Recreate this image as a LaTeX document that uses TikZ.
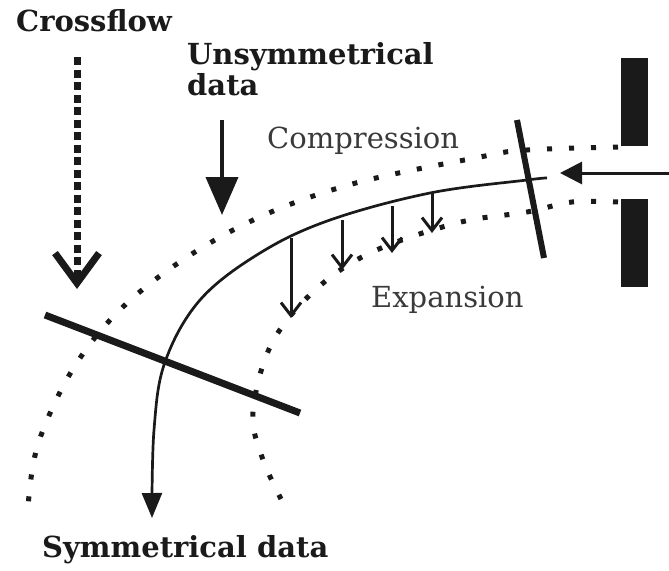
\documentclass[tikz,border=0pt]{standalone}
\usepackage{fontspec}
\setmainfont{DejaVu Serif}
\usepackage{tikz}
\usetikzlibrary{arrows.meta}
\definecolor{ink}{HTML}{1A1A1A}
\definecolor{softink}{HTML}{3A3A3A}
\tikzset{
  boldlabel/.style={
    font=\fontsize{29}{31}\selectfont\bfseries,
    text=ink,
    inner sep=0pt,
    align=left
  },
  plainlabel/.style={
    font=\fontsize{29}{31}\selectfont,
    text=softink,
    inner sep=0pt
  },
  dotline/.style={draw=ink,line width=5pt,dash pattern=on 5pt off 17pt},
  streamline/.style={draw=ink,line width=2.7pt,-{Triangle[length=25pt,width=20pt]}},
  pusharrow/.style={draw=ink,line width=3pt,-{Straight Barb[length=13pt,width=20pt]}},
  shockbar/.style={draw=ink,line width=7pt},
  wallblock/.style={fill=ink,draw=none}
}

\begin{document}
\begin{tikzpicture}[x=1pt,y=-1pt]
  \useasboundingbox (0,0) rectangle (669,570);
  % labels
  \node[boldlabel, anchor=base west] (crossflow) at (16,31) {Crossflow};
  \node[boldlabel, anchor=north west] (unsym) at (187,42) {Unsymmetrical\\data};
  \node[plainlabel, anchor=base west] (compr) at (267,148) {Compression};
  \node[plainlabel, anchor=base west] (expan) at (371,307) {Expansion};
  \node[boldlabel, anchor=base west] (sym) at (42,557) {Symmetrical data};
  % nozzle walls
  \fill[wallblock] (621,58) rectangle (648,146);
  \fill[wallblock] (621,199) rectangle (648,287);
  % jet boundaries
  \draw[dotline] plot[smooth,tension=0.6] coordinates {(618,147) (527,150) (480,157) (345,186) (237,228) (142,290) (80,358) (39,441) (28,508)};
  \draw[dotline] plot[smooth,tension=0.6] coordinates {(618,202) (572,202) (527,212) (457,223) (370,253) (313,292) (271,345) (253,412) (262,457) (281,499)};
  % inflow
  \coordinate (inlet) at (669,173);
  \coordinate (inlettip) at (560,173);
  \draw[draw=ink,line width=3pt,-{Triangle[length=22pt,width=22pt]}] (inlet) -- (inlettip);
  % centre streamline
  \draw[streamline] plot[smooth,tension=0.6] coordinates {(547,178) (527,180) (430,193) (330,220) (260,253) (200,300) (165,362) (154,430) (152,518)};
  % bars
  \coordinate (barAa) at (45,315);
  \coordinate (barAb) at (300,413);
  \coordinate (barBa) at (517,120);
  \coordinate (barBb) at (544,258);
  \draw[shockbar] (barAa) -- (barAb);
  \draw[shockbar,line width=6pt] (barBa) -- (barBb);
  % bending arrows
  \foreach \x/\ya/\yb in {291/238/318, 342/220/270, 392/206/253, 432/193/233}{
    \coordinate (pa\x) at (\x,\ya);
    \coordinate (pb\x) at (\x,\yb);
    \draw[pusharrow] (pa\x) -- (pb\x);
  }
  % crossflow and data arrows
  \coordinate (crossA) at (77,57);
  \coordinate (crossB) at (77,289);
  \draw[draw=ink,line width=7pt,dash pattern=on 8pt off 4.5pt,-{Straight Barb[length=30pt,width=44pt]}] (crossA) -- (crossB);
  \coordinate (dataA) at (222,120);
  \coordinate (dataB) at (222,215);
  \draw[draw=ink,line width=4pt,-{Triangle[length=38pt,width=32pt]}] (dataA) -- (dataB);
\end{tikzpicture}
\end{document}
